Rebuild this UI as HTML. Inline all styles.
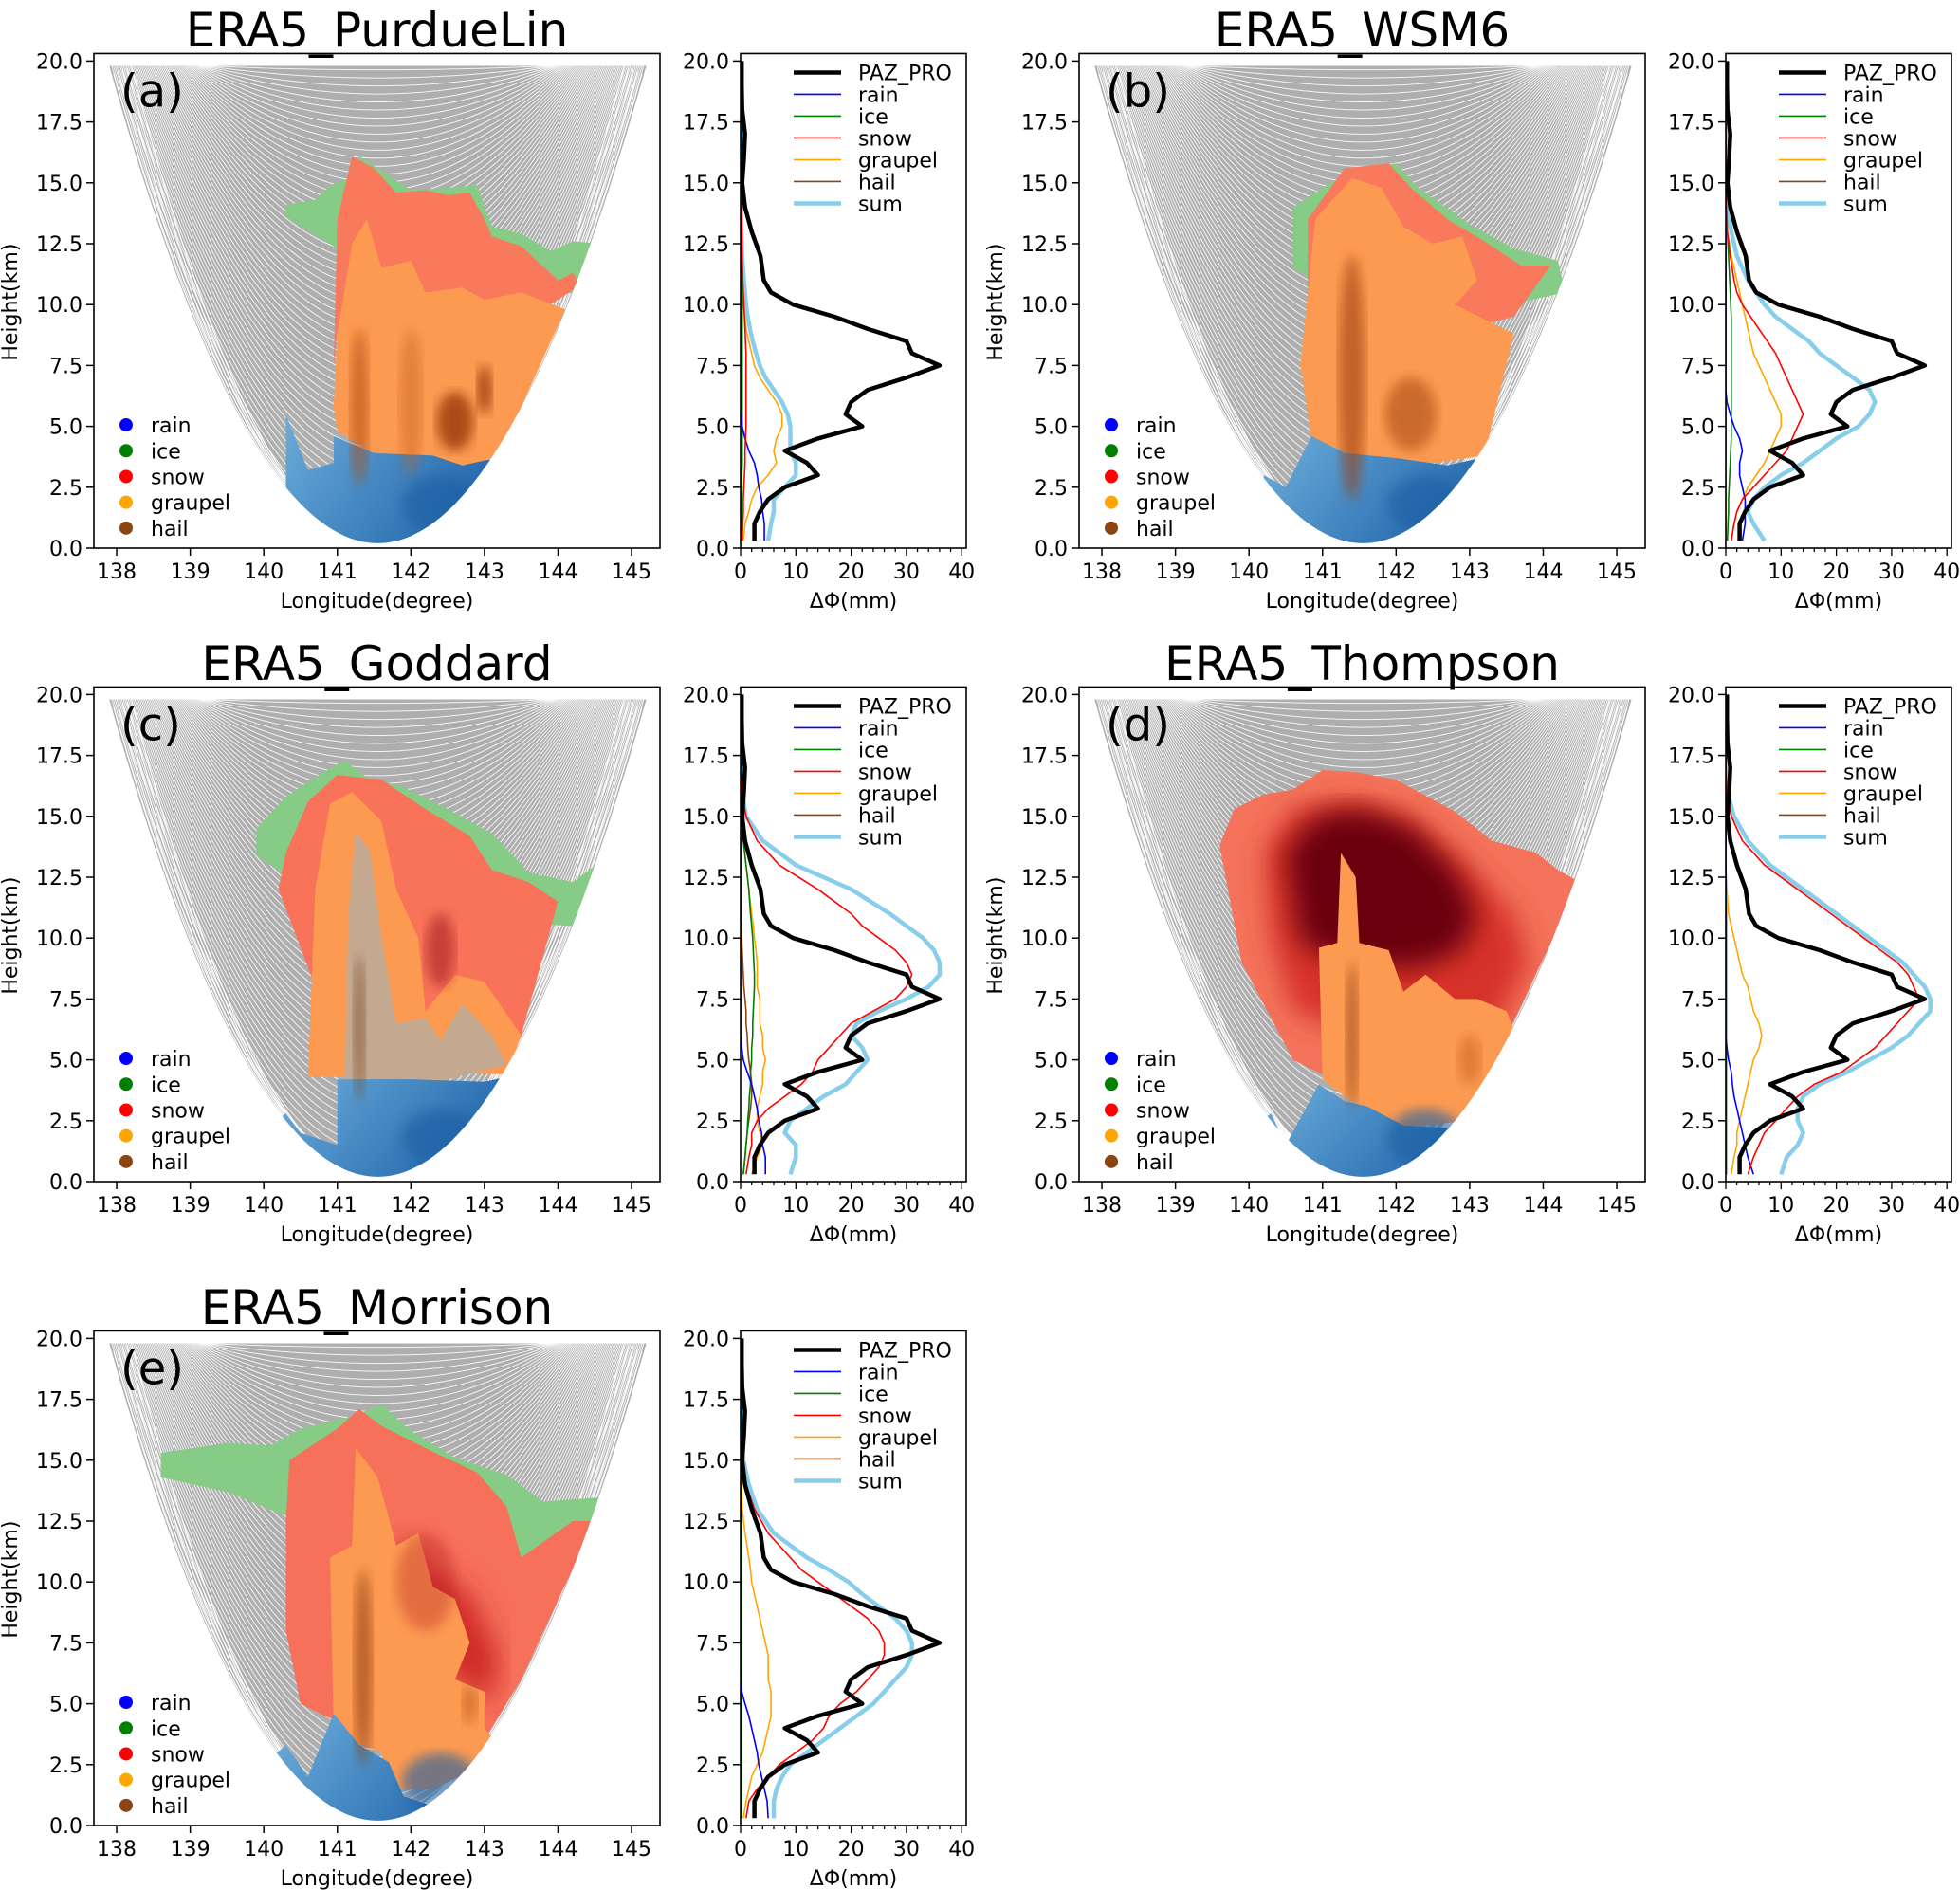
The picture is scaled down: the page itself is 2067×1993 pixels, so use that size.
<!DOCTYPE html>
<html><head><meta charset="utf-8"><title>ERA5 microphysics comparison</title>
<style>
html,body{margin:0;padding:0;background:#fff;}
svg{display:block;font-family:"DejaVu Sans","Liberation Sans",sans-serif;}
</style></head>
<body>
<svg id="chart" xmlns="http://www.w3.org/2000/svg" width="2067" height="1993" viewBox="0 0 2067 1993">
<defs>
<linearGradient id="blueGrad" x1="0" y1="0" x2="1" y2="0.3">
<stop offset="0" stop-color="#8ec4e4"/><stop offset="0.45" stop-color="#5a9ccf"/><stop offset="1" stop-color="#2468ad"/></linearGradient>
<filter id="blur6"><feGaussianBlur stdDeviation="6"/></filter>
<filter id="blur14"><feGaussianBlur stdDeviation="14"/></filter>
</defs>
</svg>
<script>
const heights=[0.3,1,1.5,2,2.5,3,3.5,4,4.5,5,5.5,6,6.5,7,7.5,8,8.5,9,9.5,10,10.5,11,12,13,14,15,16,17,18,19,20];
const pazPro=[2.5,2.5,3.5,5,8,14,12,8,14,22,19,20,23,30,36,31,30,23,17,9.5,5.5,4.2,3.6,2,0.8,0.3,0.6,0.8,0.3,0.2,0.2];
const zeros=[0,0,0,0,0,0,0,0,0,0,0,0,0,0,0,0,0,0,0,0,0,0,0,0,0,0,0,0,0,0,0];

const aRain=[4.3,4.3,4,3.8,3.3,3,2.5,1.5,0.8,0.3,0.1,0,0,0,0,0,0,0,0,0,0,0,0,0,0,0,0,0,0,0,0];
const aIce=[0.2,0.2,0.2,0.2,0.2,0.2,0.3,0.3,0.3,0.3,0.3,0.3,0.3,0.3,0.3,0.3,0.3,0.3,0.3,0.3,0.2,0.2,0.2,0.1,0.1,0,0,0,0,0,0];
const aSnow=[0.3,0.4,0.5,0.5,0.6,0.7,0.8,0.8,0.9,1,1,1,1,1,1,1,0.9,0.8,0.7,0.6,0.5,0.4,0.3,0.2,0.1,0,0,0,0,0,0];
const aGraupel=[0.5,0.8,1.5,2,3,5,6.5,6,6.5,7.5,7.5,6.5,5,3.5,2.5,2,1.5,1,0.8,0.5,0.3,0.2,0.1,0,0,0,0,0,0,0,0];
const aSum=[5,5.5,6,6,8,10,10,9,9,9,8.5,7.5,6,4.5,3.5,2.8,2.2,1.7,1.3,1,0.8,0.6,0.3,0.2,0.1,0,0,0,0,0,0];

const bRain=[3,3.5,3.5,3.5,3,2.5,2.5,3,2.5,1.5,0.8,0.2,0,0,0,0,0,0,0,0,0,0,0,0,0,0,0,0,0,0,0];
const bIce=[0.3,0.4,0.5,0.5,0.6,0.7,0.8,0.9,1,1,1,1,1,1,1,1,1,1,1,0.9,0.8,0.7,0.5,0.3,0.1,0,0,0,0,0,0];
const bSnow=[1,1.5,2,3,5,7,9,11,12,13,14,13,12,11,10,9,7.5,6,4.5,3,2,1.5,0.8,0.3,0.1,0,0,0,0,0,0];
const bGraupel=[1,1.5,2,3,4,5.5,7,8,9,10,10,9,8,7,6,5,4.5,4,3.5,3,2.5,2,1,0.3,0.1,0,0,0,0,0,0];
const bSum=[7,5,4,5,7,10,14,17,20,24,26,27,26,23,20,17,15,12,9,7,5.5,4,2,1,0.4,0.1,0,0,0,0,0];

const cRain=[4.5,4.5,4,3.8,3.3,3,2.5,2,1.2,0.5,0.2,0,0,0,0,0,0,0,0,0,0,0,0,0,0,0,0,0,0,0,0];
const cIce=[0.5,0.8,1,1.2,1.3,1.5,1.6,1.8,1.8,2,2,2.2,2.2,2.3,2.4,2.5,2.5,2.4,2.3,2.2,2,1.8,1.5,1,0.5,0.2,0,0,0,0,0];
const cSnow=[1,1.5,2,2,3,5,8,11,13,14,16,18,20,24,28,30,31,30,28,25,22,20,14,7,3,1,0.2,0,0,0,0];
const cGraupel=[2,3,4,3.5,3,3,3.5,4,4,4.5,4,4,3.5,3.5,3.5,3,3,3,2.8,2.5,2.3,2,1.5,1,0.5,0.2,0,0,0,0,0];
const cHail=[0.5,0.8,1,1.2,1.5,1.8,2,2,1.8,1.5,1.3,1.2,1,1,0.8,0.6,0.5,0.4,0.3,0.2,0.1,0,0,0,0,0,0,0,0,0,0];
const cSum=[9,10,10,8,9,12,15,19,21,23,22,20,21,25,30,34,36,36,35,33,30,27,20,10,4,1,0.3,0,0,0,0];

const dRain=[5,4,3.5,3,2.5,2,1.5,1.2,1,0.5,0.2,0,0,0,0,0,0,0,0,0,0,0,0,0,0,0,0,0,0,0,0];
const dIce=[0.1,0.1,0.1,0.1,0.1,0.1,0.1,0.1,0.1,0.1,0.1,0.1,0.1,0.1,0.1,0.1,0.1,0.1,0.1,0.1,0.1,0.1,0,0,0,0,0,0,0,0,0];
const dSnow=[4,5,6,7,9,11,13,16,21,24,27,29,31,33,35,34,33,31,28,25,22,19,13,7,3,1,0.2,0,0,0,0];
const dGraupel=[1,1.5,2,2,2.5,3,3.5,4,4.5,5,6,6.5,6,5,4.5,4,3,2.5,2,1.5,1,0.5,0.2,0,0,0,0,0,0,0,0];
const dSum=[10,11,13,14,13,13,14,17,22,26,30,33,35,37,37,36,34,32,29,26,23,20,14,8,4,1.5,0.3,0,0,0,0];

const eRain=[5,4.8,4.3,3.8,3.3,3,2.5,2,1.5,0.8,0.2,0,0,0,0,0,0,0,0,0,0,0,0,0,0,0,0,0,0,0,0];
const eIce=[0.1,0.1,0.1,0.1,0.1,0.1,0.1,0.1,0.1,0.1,0.1,0.1,0.1,0.1,0.1,0.1,0.1,0.1,0.1,0.1,0.1,0.1,0.1,0,0,0,0,0,0,0,0];
const eSnow=[1,1.5,3,5,7,10,13,15,16,18,21,23,25,26,26,25,23,20,17,14,11,9,5,2.5,1,0.3,0,0,0,0,0];
const eGraupel=[0.5,1,1.5,2,3,4,4.5,5,5.5,5.5,5.5,5,5,5,4.5,4,3.5,3,2.5,2,1.8,1.5,0.8,0.3,0.1,0,0,0,0,0,0];
const eSum=[6,6,6.5,7.5,9,12,15,18,21,24,26,28,30,31,31,30,28,25,22,19.5,16,12,6,3,1.5,0.5,0.1,0,0,0,0];

const lonTicks=[138,139,140,141,142,143,144,145];
const hTicks=[0,2.5,5,7.5,10,12.5,15,17.5,20];
const dpTicks=[0,10,20,30,40];
const speciesNames=['rain','ice','snow','graupel','hail'];
const speciesColors=['#0000ff','#008000','#ff0000','#ffa500','#8b4513'];

const NS='http://www.w3.org/2000/svg';
const svg=document.getElementById('chart');
function mk(tag,attrs,parent){const e=document.createElementNS(NS,tag);for(const k in attrs)e.setAttribute(k,attrs[k]);(parent||svg).appendChild(e);return e;}

const C=141.55, W=3.65;
const envK=19.6/(W*W);

const regions={
a:[
 {n:'ice-region',c:'#86cc86',p:[[140.3,13.6],[140.3,14.1],[140.7,14.3],[140.9,14.9],[141.2,15.2],[141.3,16.1],[141.6,15.5],[142,14.7],[142.5,14.8],[142.9,14.9],[143.1,13.2],[143.5,12.9],[143.9,12.2],[144.2,12.6],[144.6,12.5],[144.3,10.5],[142,10],[140.9,12.5]]},
 {n:'snow-region',c:'#f8795c',p:[[140.95,7.5],[141.0,13.5],[141.2,16.1],[141.5,15.6],[141.8,14.6],[142.2,14.7],[142.5,14.5],[142.8,14.6],[143.0,13.5],[143.1,12.8],[143.5,12.4],[144.0,11.0],[144.2,11.3],[144.3,10.8],[143.7,9.6],[141,9]]},
 {n:'graupel-region',c:'#fc9a52',p:[[141.0,8.8],[141.2,12.5],[141.4,13.5],[141.6,11.5],[142.0,11.8],[142.2,10.5],[142.7,10.7],[143.0,10.2],[143.5,10.5],[144.1,9.8],[143.2,3.8],[142.7,3.3],[142.0,3.7],[141.5,3.9],[141.0,4.8],[140.95,5.8]]},
 {n:'rain-region',c:'url(#blueGrad)',p:[[140.95,4.6],[141.5,3.9],[142.3,3.8],[142.7,3.4],[143.3,3.8],[143.4,0],[139,0],[140.3,2.0],[140.3,5.5],[140.6,3.2],[140.95,3.5]]}],
b:[
 {n:'ice-region',c:'#86cc86',p:[[140.6,13.0],[140.6,14.0],[141.0,14.8],[141.4,15.5],[142.0,15.8],[142.3,14.8],[143.0,13.3],[143.6,12.3],[144.2,11.8],[144.3,10.5],[142,9],[140.6,11.5]]},
 {n:'snow-region',c:'#f8795c',p:[[140.8,10],[140.8,13.5],[141.3,15.6],[141.9,15.8],[142.2,14.8],[142.7,13.5],[143.2,12.6],[143.7,11.6],[144.1,11.6],[143.6,9.5],[141,7.5]]},
 {n:'graupel-region',c:'#fc9a52',p:[[140.7,7.5],[140.9,13.5],[141.4,15.2],[141.8,14.8],[142.1,13.2],[142.5,12.5],[142.9,12.8],[143.1,11],[142.8,10],[143.6,8.8],[143.2,3.8],[142.5,3.5],[141.8,3.6],[141.3,4],[140.85,4.5]]},
 {n:'rain-region',c:'url(#blueGrad)',p:[[140.85,4.6],[141.3,3.9],[142,3.7],[142.7,3.4],[143.3,3.8],[143.4,0],[139,0],[140.2,2.0],[140.2,3.0],[140.5,2.5]]}],
c:[
 {n:'ice-region',c:'#86cc86',p:[[139.9,13.4],[139.9,14.5],[140.3,15.8],[140.8,16.8],[141.1,17.3],[141.4,16.6],[141.9,16.2],[142.5,15.3],[143.1,14.3],[143.6,12.7],[144.2,12.3],[144.6,13.2],[144.2,10.5],[141,11]]},
 {n:'snow-region',c:'#f8735a',p:[[140.2,12],[140.3,13.5],[140.6,15.6],[141.0,16.7],[141.6,16.5],[142.2,15.3],[142.8,14.2],[143.1,12.8],[143.6,12.3],[144.0,11.5],[143.5,6.0],[142,4.5],[140.7,8]]},
 {n:'graupel-region',c:'#fc9a52',p:[[140.6,4.3],[140.7,12],[140.9,15.5],[141.2,16],[141.6,14.8],[141.8,12],[142.1,10],[142.2,7],[142.6,8.5],[143.0,8.2],[143.5,6],[143.3,4.4],[142,4.5],[141.0,4.3]]},
 {n:'hail-region',c:'#c4a990',p:[[141.1,4],[141.15,11],[141.25,14.4],[141.45,13.5],[141.6,10],[141.8,6.5],[142.2,6.7],[142.4,5.8],[142.7,7.3],[143.1,6],[143.3,4.8],[142.5,4.2],[141.8,4]]},
 {n:'rain-region',c:'url(#blueGrad)',p:[[141.0,4.2],[142,4.2],[143.0,4.1],[143.3,4.3],[143.4,0],[139,0],[140.3,2.8],[140.5,2.0],[141,1.5]]}],
d:[
 {n:'snow-region',c:'#f4735a',p:[[139.6,13.8],[139.8,15.3],[140.2,15.9],[140.6,16.1],[141.0,16.9],[141.5,16.8],[142.0,16.5],[142.8,15.2],[143.3,14.0],[143.9,13.5],[144.2,12.8],[144.5,12.3],[143.5,6],[142.5,4],[141.4,3.8],[140.6,5],[139.9,9]]},
 {n:'snow-mid-region',c:'#d6322a',p:[[140.2,13.5],[140.6,15.3],[141.4,15.7],[142.2,15],[143,13],[143.6,11],[143.8,9],[143.3,6],[142.6,5],[141.5,6],[140.6,7],[140.3,10]]},
 {n:'snow-core-region',c:'#6b0610',p:[[140.5,13.5],[140.9,15.0],[141.5,15.3],[142.2,14.6],[142.8,12.8],[143.1,11],[142.9,9.5],[142.3,8.8],[141.4,8.8],[140.7,9.8]]},
 {n:'graupel-region',c:'#fc9a52',p:[[141.0,4.2],[140.95,9.6],[141.2,9.8],[141.25,13.5],[141.45,12.5],[141.5,9.8],[141.9,9.5],[142.1,7.8],[142.4,8.5],[142.8,7.5],[143.1,7.5],[143.5,7],[143.7,5.5],[143.0,2.5],[142.0,2.2],[141.6,3],[141.3,3.5]]},
 {n:'rain-region',c:'url(#blueGrad)',p:[[140.95,4],[141.3,3.3],[141.6,3.1],[142.1,2.3],[142.7,2.2],[143.0,2.3],[143.4,0],[139,0],[140.3,2.8],[140.5,1.5]]}],
e:[
 {n:'ice-region',c:'#86cc86',p:[[138.6,14.3],[138.6,15.3],[139.5,15.7],[140.1,15.6],[140.5,16.3],[141.2,16.8],[141.6,17.3],[142.0,16.2],[142.6,15.1],[143.3,14.4],[143.8,13.3],[144.7,13.5],[144.2,11],[143.4,11],[142,12.5],[140.4,12.6],[139.5,13.7]]},
 {n:'snow-region',c:'#f6705a',p:[[140.3,8],[140.3,12.5],[140.35,15],[141.0,16.3],[141.3,17.1],[141.6,16.4],[142.4,15.2],[142.9,14.5],[143.3,13.1],[143.5,11],[144.2,12.5],[144.5,12.5],[143.5,6],[143,3.5],[141.5,3.5],[140.5,5]]},
 {n:'snow-core-region',c:'#cf2a28',p:[[141.8,11.8],[142.3,10.5],[142.8,9.5],[143.2,7],[143.1,5],[142.6,6],[142.0,8],[141.7,10]]},
 {n:'graupel-region',c:'#fc9a52',p:[[140.95,4],[140.9,11],[141.2,11.5],[141.25,15.5],[141.55,14.3],[141.8,11.5],[142.1,12.0],[142.3,9.8],[142.6,9.3],[142.8,7.5],[142.6,6],[143.0,5.5],[143.0,4],[143.3,2.9],[142.3,1.5],[141.7,1.5],[141.6,3],[141.2,3.5]]},
 {n:'rain-region',c:'url(#blueGrad)',p:[[140.95,4.6],[141.3,3.3],[141.7,2.6],[141.9,1.2],[142.5,0.6],[143.2,2.5],[143.4,0],[139,0],[140.3,3.3],[140.6,2]]}]
};
const streaks={
a:[[141.3,5.8,0.12,3.2,'#b04a0a',0.6],[142.6,5.2,0.25,1.2,'#8b2c05',0.7],[143.0,6.5,0.1,1,'#8b2c05',0.7],[142.0,6,0.15,3,'#c5621a',0.45]],
b:[[141.4,7,0.18,5,'#9c3c07',0.6],[142.2,5.5,0.35,1.5,'#a4440a',0.55]],
c:[[141.3,6.3,0.08,3,'#7a4a24',0.6],[142.4,9.5,0.2,1.5,'#9a0f12',0.5]],
d:[[141.4,6,0.08,3,'#8b3b08',0.6],[143.0,5,0.15,1,'#b4500c',0.4]],
e:[[141.35,6.5,0.12,4,'#8b3b08',0.6],[142.8,5.0,0.1,0.8,'#b4500c',0.5],[142.2,10,0.4,2,'#b81e22',0.35]]
};

const panels=[
 {key:'a',col:0,row:0,title:'ERA5_PurdueLin',letter:'(a)',rain:aRain,ice:aIce,snow:aSnow,graupel:aGraupel,hail:zeros,sum:aSum},
 {key:'b',col:1,row:0,title:'ERA5_WSM6',letter:'(b)',rain:bRain,ice:bIce,snow:bSnow,graupel:bGraupel,hail:zeros,sum:bSum},
 {key:'c',col:0,row:1,title:'ERA5_Goddard',letter:'(c)',rain:cRain,ice:cIce,snow:cSnow,graupel:cGraupel,hail:cHail,sum:cSum},
 {key:'d',col:1,row:1,title:'ERA5_Thompson',letter:'(d)',rain:dRain,ice:dIce,snow:dSnow,graupel:dGraupel,hail:zeros,sum:dSum},
 {key:'e',col:0,row:2,title:'ERA5_Morrison',letter:'(e)',rain:eRain,ice:eIce,snow:eSnow,graupel:eGraupel,hail:zeros,sum:eSum}
];
const rowY0=[578,1246,1925];

panels.forEach(P=>{
  const ox=P.col*1039;
  const y0=rowY0[P.row];
  const ky=25.68;
  const Y=h=>y0-h*ky;
  const X=lon=>ox+99+(lon-137.69)*77.57;
  const axL=ox+99, axR=ox+696, axT=Y(20.31), axB=y0;
  const g=mk('g',{});
  
  

  const title=mk('text',{x:(axL+axR)/2,y:y0-529,'text-anchor':'middle','font-size':50,fill:'#000'},g);
  
  
  title.textContent=P.title;

  const cpId='clip'+P.key;
  const cp=mk('clipPath',{id:cpId},g);
  mk('rect',{x:axL,y:axT,width:axR-axL,height:axB-axT},cp);
  const cpE='env'+P.key;
  const ce=mk('clipPath',{id:cpE},g);
  let ep=[];
  for(let lon=C-W;lon<=C+W+1e-6;lon+=0.05){ep.push(X(lon)+','+Y(0.2+envK*(lon-C)*(lon-C)));}
  ep.push(X(C+W)+','+Y(21));ep.push(X(C-W)+','+Y(21));
  mk('polygon',{points:ep.join(' ')},ce);

  const arcs=mk('g',{'clip-path':'url(#'+cpId+')',fill:'none'},g);
  
  
  let gp=[];
  for(let lon=C-W;lon<=C+W+1e-6;lon+=0.05){gp.push(X(lon).toFixed(1)+','+Y(0.2+envK*(lon-C)*(lon-C)).toFixed(1));}
  const band=mk('polygon',{points:gp.join(' '),fill:'#aeaeae'},arcs);
  
  
  for(let h0=0.5;h0<19.7;h0+=0.33){
    const w=W-1.35*(h0/20);
    const k=(19.8-h0)/(w*w);
    let pts=[];
    for(let t=-1;t<=1.0001;t+=0.02){const lon=C+t*w;pts.push(X(lon).toFixed(1)+','+Y(h0+k*(lon-C)*(lon-C)).toFixed(1));}
    const pl=mk('polyline',{points:pts.join(' '),stroke:'#ffffff','stroke-width':1.0,'stroke-opacity':0.85},arcs);
    
    
  }
  for(let i=1;i<6;i++){
    const w=W-0.06*i, h1=19.4+0.08*i, k=(h1-0.2)/(w*w);
    let pts=[];
    for(let t=-1;t<=1.0001;t+=0.02){const lon=C+t*w;pts.push(X(lon).toFixed(1)+','+Y(0.2+k*(lon-C)*(lon-C)).toFixed(1));}
    const pl=mk('polyline',{points:pts.join(' '),stroke:'#ffffff','stroke-width':1.2},arcs);
    
    
  }

  const rg=mk('g',{'clip-path':'url(#'+cpE+')'},g);
  
  
  const rg2=mk('g',{'clip-path':'url(#'+cpId+')'},rg);
  regions[P.key].forEach(R=>{
    const poly=mk('polygon',{points:R.p.map(q=>X(q[0]).toFixed(1)+','+Y(q[1]).toFixed(1)).join(' '),fill:R.c},rg2);
    
    
    if(R.n==='snow-mid-region'||R.n==='snow-core-region'){poly.setAttribute('filter','url(#blur14)');}
  });
  streaks[P.key].forEach(s=>{
    const e=mk('ellipse',{cx:X(s[0]),cy:Y(s[1]),rx:s[2]*77.57,ry:s[3]*ky,fill:s[4],opacity:s[5],filter:'url(#blur6)'},rg2);
    
    
  });
  const dr=mk('ellipse',{cx:X(142.4),cy:Y(1.8),rx:40,ry:30,fill:'#1d5ea3',opacity:0.6,filter:'url(#blur6)'},rg2);
  
  

  const fr=mk('rect',{x:axL,y:axT,width:axR-axL,height:axB-axT,fill:'none',stroke:'#000','stroke-width':1.6},g);
  
  

  lonTicks.forEach(v=>{
    const tk=mk('line',{x1:X(v),x2:X(v),y1:axB,y2:axB+8,stroke:'#000','stroke-width':1.5},g);
    
    
    const tl=mk('text',{x:X(v),y:axB+32,'text-anchor':'middle','font-size':22},g);
    
    
    tl.textContent=v;
  });
  hTicks.forEach(v=>{
    const tk=mk('line',{x1:axL-8,x2:axL,y1:Y(v),y2:Y(v),stroke:'#000','stroke-width':1.5},g);
    
    
    const tl=mk('text',{x:axL-12,y:Y(v)+8,'text-anchor':'end','font-size':22},g);
    
    
    tl.textContent=v.toFixed(1);
  });
  const xl=mk('text',{x:(axL+axR)/2,y:axB+63,'text-anchor':'middle','font-size':22},g);
  
  
  xl.textContent='Longitude(degree)';
  const yl=mk('text',{x:0,y:0,'text-anchor':'middle','font-size':22,transform:'translate('+(ox+18)+','+Y(10.1)+') rotate(-90)'},g);
  
  
  yl.textContent='Height(km)';
  const lt=mk('text',{x:axL+28,y:axT+56,'font-size':48},g);
  
  
  lt.textContent=P.letter;

  speciesNames.forEach((n,i)=>{
    const cy=Y(5.06)+i*27.2;
    const d=mk('circle',{cx:axL+34,cy:cy,r:7,fill:speciesColors[i]},g);
    
    
    const t=mk('text',{x:axL+60,y:cy+8,'font-size':22},g);
    
    
    t.textContent=n;
  });

  const pL=ox+781, pR=ox+1019;
  const PX=v=>pL+v*5.83;
  const pcId='pclip'+P.key;
  const pcp=mk('clipPath',{id:pcId},g);
  mk('rect',{x:pL,y:axT,width:pR-pL,height:axB-axT},pcp);
  const pg=mk('g',{'clip-path':'url(#'+pcId+')',fill:'none','stroke-linejoin':'round'},g);
  
  
  const series=[
    ['sum',P.sum,'#87ceeb',4.5],['graupel',P.graupel,'#ffa500',1.6],['hail',P.hail,'#8b4513',1.6],
    ['ice',P.ice,'#008000',1.6],['rain',P.rain,'#0000ff',1.6],['snow',P.snow,'#ff0000',1.6],['paz-pro',pazPro,'#000',4.5]];
  series.forEach(s=>{
    const pts=heights.map((h,i)=>PX(s[1][i]).toFixed(1)+','+Y(h).toFixed(1)).join(' ');
    const pl=mk('polyline',{points:pts,stroke:s[2],'stroke-width':s[3]},pg);
    
    
  });
  const pf=mk('rect',{x:pL,y:axT,width:pR-pL,height:axB-axT,fill:'none',stroke:'#000','stroke-width':1.6},g);
  
  
  for(let v=0;v<=40;v+=2){
    const major=dpTicks.indexOf(v)>=0;
    const tk=mk('line',{x1:PX(v),x2:PX(v),y1:axB,y2:axB+(major?8:4),stroke:'#000','stroke-width':1.3},g);
    
    
  }
  dpTicks.forEach(v=>{
    const tl=mk('text',{x:PX(v),y:axB+32,'text-anchor':'middle','font-size':22},g);
    
    
    tl.textContent=v;
  });
  hTicks.forEach(v=>{
    const tk=mk('line',{x1:pL-8,x2:pL,y1:Y(v),y2:Y(v),stroke:'#000','stroke-width':1.5},g);
    
    
    const tl=mk('text',{x:pL-12,y:Y(v)+8,'text-anchor':'end','font-size':22},g);
    
    
    tl.textContent=v.toFixed(1);
  });
  const pxl=mk('text',{x:(pL+pR)/2,y:axB+63,'text-anchor':'middle','font-size':22},g);
  
  
  pxl.textContent='ΔΦ(mm)';
  const leg=[['PAZ_PRO','#000',4.5],['rain','#0000ff',1.6],['ice','#008000',1.6],['snow','#ff0000',1.6],['graupel','#ffa500',1.6],['hail','#8b4513',1.6],['sum','#87ceeb',4.5]];
  leg.forEach((l,i)=>{
    const ly=axT+20+i*23;
    const ln=mk('line',{x1:pL+56,x2:pL+106,y1:ly,y2:ly,stroke:l[1],'stroke-width':l[2]},g);
    
    
    const t=mk('text',{x:pL+124,y:ly+8,'font-size':22},g);
    
    
    t.textContent=l[0];
  });
});
</script>
</body></html>
